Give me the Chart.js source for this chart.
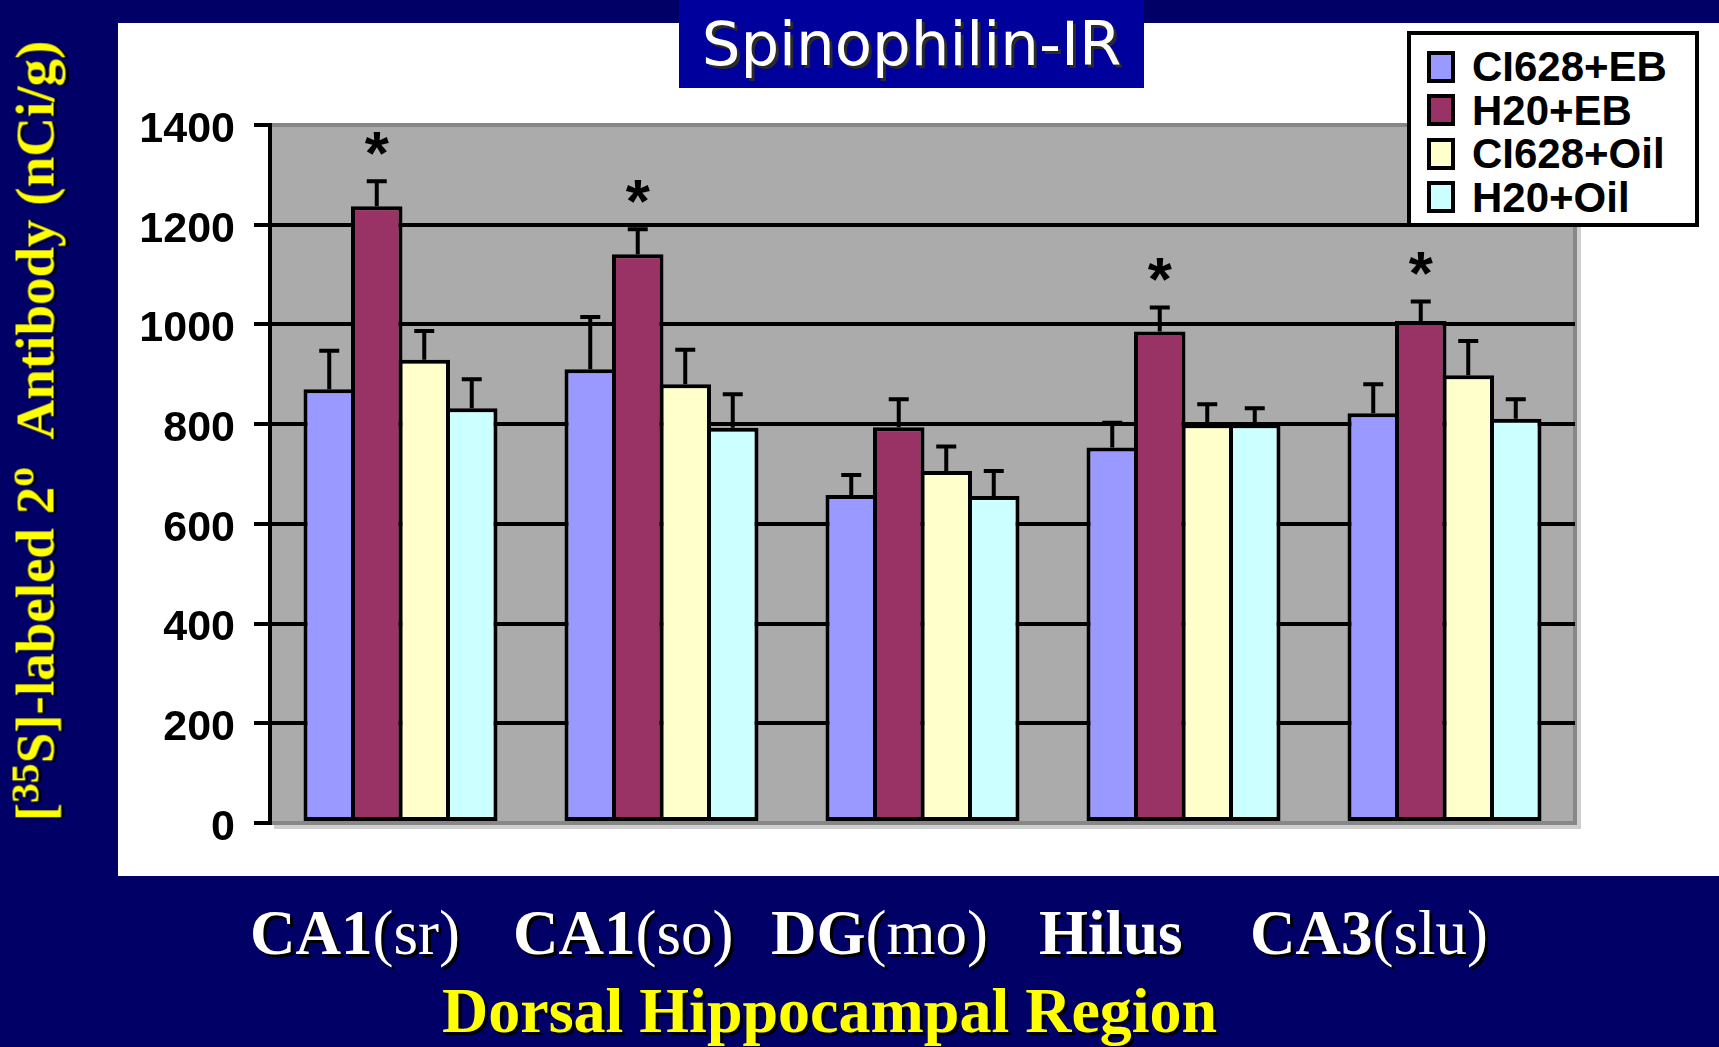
<!DOCTYPE html>
<html>
<head>
<meta charset="utf-8">
<title>Spinophilin-IR</title>
<script src="https://cdn.jsdelivr.net/npm/chart.js@4.4.1/dist/chart.umd.min.js"></script>
<style>
  body { margin: 0; width: 1719px; height: 1047px; overflow: hidden; position: relative; background: #000066; }
  #panel { position: absolute; left: 118px; top: 23px; width: 1601px; height: 853px; background: #fff; }
  #chart { position: absolute; left: 0; top: 0; }
  #title { position: absolute; left: 679px; top: 0; width: 465px; height: 88px; background: #00009c;
    color: #fff; font: 61px "DejaVu Sans"; line-height: 88px; text-align: center; text-shadow: 3px 3px 0 #2a2a2a; }
  #legend { position: absolute; left: 1407px; top: 31px; width: 292px; height: 196px; box-sizing: border-box;
    border: 4px solid #000; background: #fff; padding-top: 10px; padding-left: 16px; }
  .item { display: flex; align-items: center; height: 43.5px; font: bold 42px "Liberation Sans"; line-height: 43.5px; color: #000; }
  .swatch { width: 28px; height: 32px; box-sizing: border-box; border: 4px solid #000; margin-right: 17px; }
  #yTitle { position: absolute; left: 38px; top: 431px; transform: translate(-50%, -50%) rotate(-90deg);
    font: bold 55px "Liberation Serif"; line-height: 55px; white-space: nowrap; color: #ff0; text-shadow: -1px 3px 0 #000; }
  #yTitle .sup { font-size: 0.72em; position: relative; top: -15px; }
  #yTitle .deg { font-size: 0.72em; position: relative; top: -20px; }
  .region { position: absolute; top: 902px; font: 63px "Liberation Serif"; line-height: 63px; color: #fff;
    white-space: nowrap; text-shadow: 3px 3px 0 #000; }
  .region b { font-weight: bold; }
  #xTitle { position: absolute; left: 442px; top: 979px; font: bold 64px "Liberation Serif"; line-height: 64px;
    color: #ff0; white-space: nowrap; text-shadow: 3px 3px 0 #000; }
</style>
</head>
<body>
<div id="panel"></div>
<canvas id="chart" width="1719" height="1047"></canvas>
<div id="title">Spinophilin-IR</div>
<div id="legend"></div>
<div id="yTitle">[<span class="sup">35</span>S]-labeled 2<span class="deg">o</span>&nbsp;&nbsp;Antibody (nCi/g)</div>
<div id="xTitle">Dorsal Hippocampal Region</div>
<script>
// hippocampal regions on the x axis
const regions = ["CA1(sr)", "CA1(so)", "DG(mo)", "Hilus", "CA3(slu)"];

// mean binding per group (nCi/g)
const ci628EB = [870, 910, 658, 753, 822];
const h20EB = [1237, 1141, 794, 986, 1007];
const ci628Oil = [929, 880, 706, 800, 898];
const h20Oil = [832, 793, 656, 800, 811];

// SEM, drawn upward only
const ci628EBErr = [77, 105, 40, 50, 58];
const h20EBErr = [50, 50, 56, 48, 39];
const ci628OilErr = [58, 69, 49, 40, 69];
const h20OilErr = [58, 67, 50, 32, 39];

// regions where H20+EB differs significantly
const significant = [true, true, false, true, true];

const yMin = 0, yMax = 1400, yStep = 200;

// left edges of the region captions under the panel
const regionLeft = [250, 513, 771, 1039, 1250];

const datasets = [
  { label: "CI628+EB", data: ci628EB, errors: ci628EBErr, backgroundColor: "#9999ff" },
  { label: "H20+EB", data: h20EB, errors: h20EBErr, backgroundColor: "#993366" },
  { label: "CI628+Oil", data: ci628Oil, errors: ci628OilErr, backgroundColor: "#ffffcc" },
  { label: "H20+Oil", data: h20Oil, errors: h20OilErr, backgroundColor: "#ccffff" }
];
datasets.forEach(ds => {
  ds.borderColor = "#000";
  ds.borderWidth = 4;
  ds.borderSkipped = false;
});

// gray plot background with the light 3D frame
const plotFrame = {
  id: "plotFrame",
  beforeDraw(chart) {
    const { ctx, chartArea: a } = chart;
    ctx.save();
    ctx.fillStyle = "#cfcfcf";
    ctx.fillRect(a.left + 4, a.top + 4, a.width + 2, a.height + 2);
    ctx.fillStyle = "#ababab";
    ctx.fillRect(a.left, a.top, a.width, a.height);
    ctx.strokeStyle = "#878787";
    ctx.lineWidth = 4;
    ctx.beginPath();
    ctx.moveTo(a.left, a.top);
    ctx.lineTo(a.right, a.top);
    ctx.lineTo(a.right, a.bottom);
    ctx.lineTo(a.left, a.bottom);
    ctx.stroke();
    ctx.restore();
  }
};

// upper error bars and the significance stars
const errorBars = {
  id: "errorBars",
  afterDatasetsDraw(chart) {
    const { ctx } = chart;
    const y = chart.scales.y;
    ctx.save();
    ctx.strokeStyle = "#000";
    ctx.lineWidth = 4;
    chart.data.datasets.forEach((ds, i) => {
      chart.getDatasetMeta(i).data.forEach((bar, j) => {
        const top = y.getPixelForValue(ds.data[j] + ds.errors[j]);
        ctx.beginPath();
        ctx.moveTo(bar.x, bar.y);
        ctx.lineTo(bar.x, top);
        ctx.moveTo(bar.x - 10, top);
        ctx.lineTo(bar.x + 10, top);
        ctx.stroke();
      });
    });

    ctx.fillStyle = "#000";
    ctx.font = 'bold 62px "Liberation Sans"';
    ctx.textAlign = "center";
    const m = ctx.measureText("*");
    const half = (m.actualBoundingBoxAscent - m.actualBoundingBoxDescent) / 2;
    const ds = chart.data.datasets[1];
    chart.getDatasetMeta(1).data.forEach((bar, j) => {
      if (!significant[j]) return;
      const cy = y.getPixelForValue(ds.data[j] + ds.errors[j]) - 38;
      ctx.fillText("*", bar.x, cy + half);
    });
    ctx.restore();
  }
};

const chart = new Chart("chart", {
  type: "bar",
  data: { labels: regions, datasets: datasets },
  options: {
    responsive: false,
    animation: false,
    layout: { padding: { left: 0, top: 125, right: 144, bottom: 224 } },
    datasets: { bar: { categoryPercentage: 0.728, barPercentage: 1.084 } },
    plugins: { legend: { display: false }, tooltip: { enabled: false } },
    scales: {
      x: { display: false },
      y: {
        min: yMin,
        max: yMax,
        afterFit(scale) { scale.width = 270; },
        ticks: {
          stepSize: yStep,
          padding: 19,
          labelOffset: 5,
          color: "#000",
          font: { family: "Liberation Sans", size: 43, weight: "bold" },
          callback: value => String(value)
        },
        grid: {
          lineWidth: 4,
          tickLength: 16,
          tickColor: "#000",
          color: ctx => (ctx.tick && (ctx.tick.value === yMin || ctx.tick.value === yMax)) ? "rgba(0,0,0,0)" : "#000"
        },
        border: { display: true, color: "#000", width: 4 }
      }
    }
  },
  plugins: [plotFrame, errorBars]
});

// legend box
const legend = document.getElementById("legend");
datasets.forEach(ds => {
  const row = document.createElement("div");
  row.className = "item";
  const sw = document.createElement("span");
  sw.className = "swatch";
  sw.style.background = ds.backgroundColor;
  row.appendChild(sw);
  row.appendChild(document.createTextNode(ds.label));
  legend.appendChild(row);
});

// region captions: structure name bold, layer in plain type
regions.forEach((name, i) => {
  const el = document.createElement("div");
  el.className = "region";
  el.style.left = regionLeft[i] + "px";
  const k = name.indexOf("(");
  const b = document.createElement("b");
  b.textContent = k < 0 ? name : name.slice(0, k);
  el.appendChild(b);
  if (k >= 0) el.appendChild(document.createTextNode(name.slice(k)));
  document.body.appendChild(el);
});
</script>
</body>
</html>
